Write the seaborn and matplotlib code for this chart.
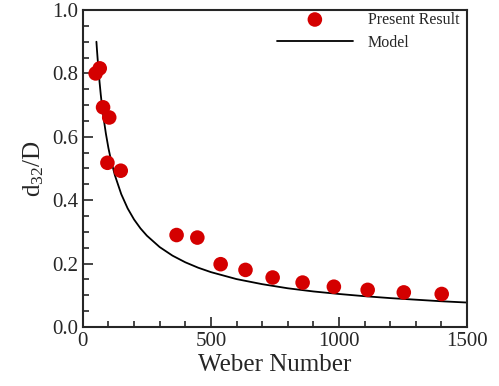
import numpy as np
import pandas as pd
import matplotlib
matplotlib.use("Agg")
import matplotlib.pyplot as plt
import seaborn as sns

# data
weber = [50, 66, 79, 103, 96, 148, 366, 447, 538, 635, 741, 858, 980, 1112, 1253, 1401]
d32 = [0.800, 0.816, 0.693, 0.661, 0.518, 0.493, 0.290, 0.282, 0.198, 0.180,
       0.156, 0.140, 0.127, 0.117, 0.109, 0.104]

# model curve, points
model_we = [53, 55, 60, 65, 70, 75, 80, 90, 100, 110, 125, 150, 175, 200, 225,
            250, 300, 350, 400, 450, 500, 600, 700, 800, 900, 1000, 1100, 1200,
            1300, 1400, 1500]
model_d32 = [0.900, 0.876, 0.822, 0.775, 0.733, 0.697, 0.665, 0.610, 0.564,
             0.526, 0.479, 0.419, 0.374, 0.339, 0.311, 0.288, 0.252, 0.225,
             0.204, 0.187, 0.173, 0.151, 0.135, 0.122, 0.112, 0.104, 0.097,
             0.091, 0.086, 0.081, 0.077]

df = pd.DataFrame({"We": weber, "d32": d32})
dm = pd.DataFrame({"We": model_we, "d32": model_d32})

sns.set_style("ticks")
plt.rcParams["font.family"] = ["Liberation Serif", "DejaVu Serif"]
plt.rcParams["mathtext.fontset"] = "custom"
plt.rcParams["mathtext.rm"] = "Liberation Serif"
plt.rcParams["mathtext.it"] = "Liberation Serif:italic"

fig = plt.figure(figsize=(4.99, 3.86), dpi=100)
ax = fig.add_axes([0.166, 0.153, 0.770, 0.821])

sns.scatterplot(data=df, x="We", y="d32", ax=ax, color="#d40000", s=110,
                edgecolor="none", label="Present Result", zorder=3)
sns.lineplot(data=dm, x="We", y="d32", ax=ax, color="black", linewidth=1.3,
             label="Model", zorder=2)

ax.set_xlim(0, 1500)
ax.set_ylim(0, 1.0)
ax.set_xticks([0, 500, 1000, 1500])
ax.set_xticks(np.arange(0, 1501, 100), minor=True)
ax.set_yticks([0.0, 0.2, 0.4, 0.6, 0.8, 1.0])
ax.set_yticks(np.arange(0, 1.001, 0.05), minor=True)
ax.set_yticklabels(["0.0", "0.2", "0.4", "0.6", "0.8", "1.0"])
ax.tick_params(which="both", direction="in", top=False, right=False,
               labelsize=15, width=1.2)
ax.tick_params(which="major", length=7)
ax.tick_params(which="minor", length=4)
for sp in ax.spines.values():
    sp.set_linewidth(1.5)
    sp.set_visible(True)

ax.set_xlabel("Weber Number", fontsize=18, labelpad=2)
ax.set_ylabel(r"d$_{\mathregular{32}}$/D", fontsize=18, labelpad=4)

ax.legend(loc="upper right", frameon=False, fontsize=11.5, handlelength=4.8,
          borderaxespad=0.1, handletextpad=0.9, labelspacing=0.45,
          bbox_to_anchor=(1.0, 1.02))

plt.savefig("out.png", dpi=100)
